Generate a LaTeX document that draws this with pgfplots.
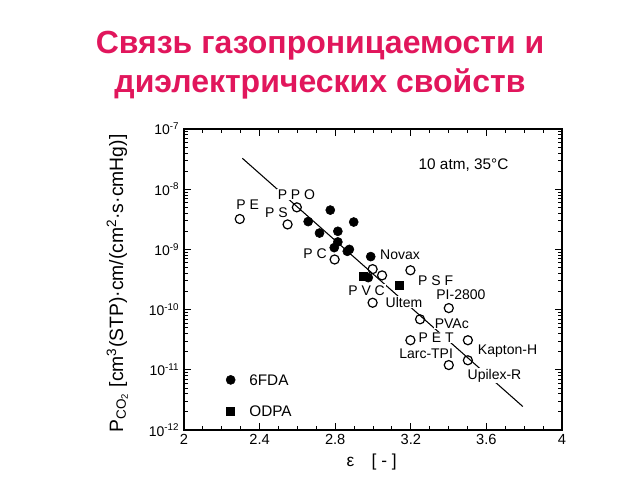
\documentclass[border=0pt]{standalone}
\usepackage{pgfplots}
\pgfplotsset{compat=1.18}
\usepackage{fontspec}
\setmainfont{Liberation Sans}
\definecolor{titlecol}{RGB}{225,22,92}
\begin{document}
\begin{tikzpicture}
\begin{axis}[name=ax,
  width=283.5pt, height=225.75pt, scale only axis,
  xmin=2, xmax=4, ymode=log, ymin=1e-12, ymax=1e-7,
  xtick={2,2.4,2.8,3.2,3.6,4},
  xticklabels={2,2.4,2.8,3.2,3.6,4},
  minor x tick num=3,
  ytick={1e-12,1e-11,1e-10,1e-9,1e-8,1e-7},
  yticklabels={10\textsuperscript{-12},10\textsuperscript{-11},10\textsuperscript{-10},10\textsuperscript{-9},10\textsuperscript{-8},10\textsuperscript{-7}},
  minor ytick={2e-12,3e-12,4e-12,5e-12,6e-12,7e-12,8e-12,9e-12,
    2e-11,3e-11,4e-11,5e-11,6e-11,7e-11,8e-11,9e-11,
    2e-10,3e-10,4e-10,5e-10,6e-10,7e-10,8e-10,9e-10,
    2e-9,3e-9,4e-9,5e-9,6e-9,7e-9,8e-9,9e-9,
    2e-8,3e-8,4e-8,5e-8,6e-8,7e-8,8e-8,9e-8},
  tick align=inside,
  major tick length=5pt, minor tick length=3pt,
  tick style={line width=0.6pt, black},
  axis line style={line width=1pt},
  yticklabel style={font=\fontsize{10.5}{12}\selectfont},
  xticklabel style={font=\fontsize{11}{13}\selectfont},
  /pgf/number format/assume math mode=true,
  clip=false,
]
% correlation line
\addplot[black, line width=0.8pt, no marks] coordinates {(2.309,3.26e-8) (3.793,2.45e-12)};
% open circles
\addplot[only marks, mark=o, mark size=3.4pt, line width=0.9pt, black, mark options={fill=white}] coordinates {
(2.295,3.2e-9) (2.597,5.0e-9) (2.548,2.6e-9) (2.797,6.8e-10)
(2.998,4.7e-10) (3.048,3.7e-10) (3.198,4.5e-10) (2.998,1.3e-10)
(3.401,1.06e-10) (3.249,6.9e-11) (3.198,3.1e-11) (3.502,3.1e-11)
(3.502,1.44e-11) (3.401,1.2e-11)};
% filled circles 6FDA
\addplot[only marks, mark=*, mark size=3.4pt, black] coordinates {
(2.657,2.9e-9) (2.774,4.5e-9) (2.717,1.87e-9) (2.898,2.85e-9)
(2.814,2.0e-9) (2.814,1.33e-9) (2.795,1.07e-9) (2.875,1.0e-9)
(2.864,9.3e-10) (2.988,7.6e-10) (2.975,3.4e-10)};
% filled squares ODPA
\addplot[only marks, mark=square*, mark size=3pt, black] coordinates {
(2.948,3.57e-10) (3.138,2.53e-10)};
% legend markers
\addplot[only marks, mark=*, mark size=3.4pt, black] coordinates {(2.247,6.8e-12)};
\addplot[only marks, mark=square*, mark size=3pt, black] coordinates {(2.247,2.07e-12)};
\begin{scope}[every node/.style={font=\fontsize{10.5}{12}\selectfont, fill=white, inner sep=0.6pt}]
\node at (axis cs:2.337,5.6e-9) {P E};
\node at (axis cs:2.595,8.1e-9) {P P O};
\node at (axis cs:2.489,4.0e-9) {P S};
\node at (axis cs:2.693,8.4e-10) {P C};
\node at (axis cs:3.143,8.2e-10) {Novax};
\node at (axis cs:3.332,3.0e-10) {P S F};
\node at (axis cs:2.966,2.1e-10) {P V C};
\node at (axis cs:3.164,1.32e-10) {Ultem};
\node at (axis cs:3.465,1.75e-10) {PI-2800};
\node at (axis cs:3.417,5.9e-11) {PVAc};
\node at (axis cs:3.334,3.4e-11) {P E T};
\node at (axis cs:3.281,1.86e-11) {Larc-TPI};
\node at (axis cs:3.712,2.08e-11) {Kapton-H};
\node at (axis cs:3.643,8.0e-12) {Upilex-R};
\node[font=\fontsize{11.5}{13}\selectfont] at (axis cs:3.479,2.5e-8) {10 atm, 35°C};
\node[anchor=west, font=\fontsize{11.5}{13}\selectfont] at (axis cs:2.34,6.8e-12) {6FDA};
\node[anchor=west, font=\fontsize{11.5}{13}\selectfont] at (axis cs:2.34,2.07e-12) {ODPA};
\end{scope}
\end{axis}
\node[rotate=90, font=\fontsize{14.5}{16}\selectfont] at ([xshift=-50pt,yshift=-3pt]ax.west)
  {P\textsubscript{CO\textsubscript{2}} [cm\textsuperscript{3}(STP)·cm/(cm\textsuperscript{2}·s·cmHg)]};
\node[font=\fontsize{13}{15}\selectfont] at ([xshift=-1pt,yshift=-24pt]ax.south) {ε\quad[ - ]};
\node[align=center, text=titlecol, font=\fontsize{24}{29}\selectfont\bfseries] at ([xshift=-39.75pt,yshift=48pt]ax.north)
  {Связь газопроницаемости и\\диэлектрических свойств};
\path[use as bounding box] ([shift={(-138pt,-37.5pt)}]ax.south west) rectangle ([shift={(58.5pt,96.75pt)}]ax.north east);
\end{tikzpicture}
\end{document}
